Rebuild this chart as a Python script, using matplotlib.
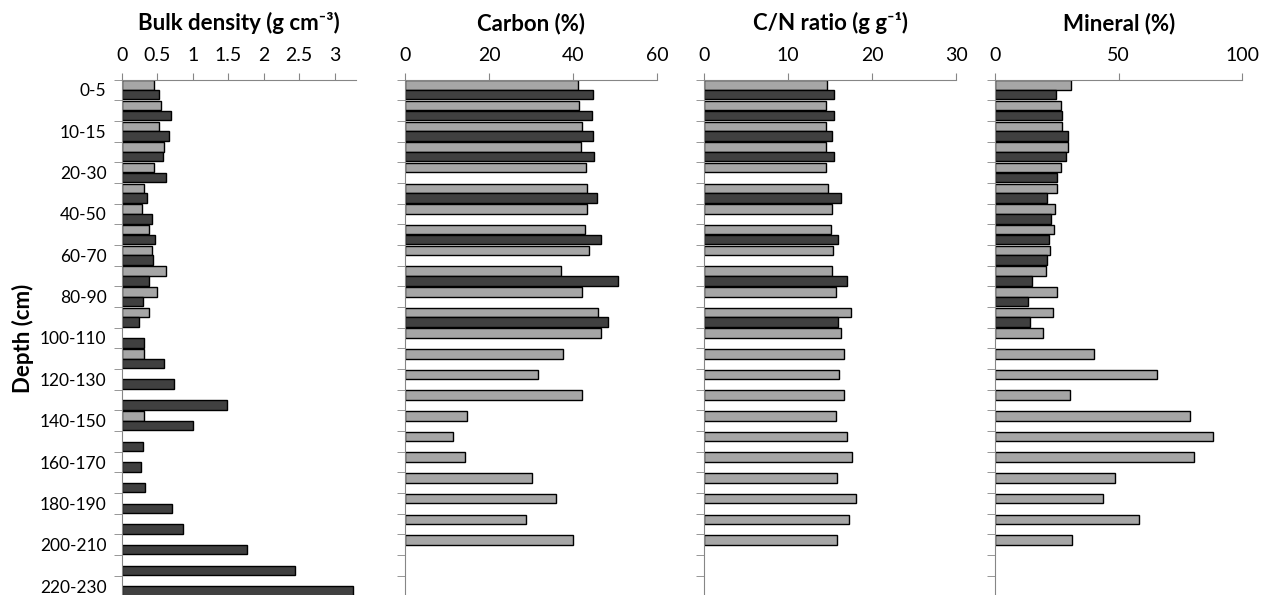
import numpy as np
import matplotlib
matplotlib.use('Agg')
import matplotlib.pyplot as plt
from matplotlib.ticker import FixedLocator, FuncFormatter

plt.rcParams['font.family'] = ['Lato', 'DejaVu Sans']

# depth classes (cm)
depths = ['0-5', '5-10', '10-15', '15-20', '20-30', '30-40', '40-50', '50-60',
          '60-70', '70-80', '80-90', '90-100', '100-110', '110-120', '120-130',
          '130-140', '140-150', '150-160', '160-170', '170-180', '180-190',
          '190-200', '200-210', '210-220', '220-230']

nan = np.nan
# light grey series / dark grey series
bd_light = [0.45, 0.55, 0.52, 0.59, 0.46, 0.31, 0.29, 0.38, 0.43, 0.63, 0.50, 0.38,
            nan, 0.31, nan, nan, 0.32, nan, nan, nan, nan, nan, nan, nan, nan]
bd_dark = [0.52, 0.69, 0.66, 0.58, 0.63, 0.35, 0.43, 0.47, 0.44, 0.38, 0.30, 0.25,
           0.32, 0.60, 0.73, 1.48, 1.00, 0.30, 0.27, 0.33, 0.71, 0.87, 1.77, 2.44, 3.26]

c_light = [41.2, 41.3, 42.2, 41.9, 43.1, 43.3, 43.4, 42.9, 43.8, 37.1, 42.2, 45.8,
           46.6, 37.5, 31.7, 42.2, 14.7, 11.3, 14.3, 30.2, 35.8, 28.8, 40.0, nan, nan]
c_dark = [44.6, 44.5, 44.8, 44.9, nan, 45.7, nan, 46.5, nan, 50.7, nan, 48.3,
          nan, nan, nan, nan, nan, nan, nan, nan, nan, nan, nan, nan, nan]

cn_light = [14.6, 14.5, 14.5, 14.5, 14.5, 14.7, 15.2, 15.1, 15.3, 15.2, 15.7, 17.5,
            16.3, 16.7, 16.1, 16.7, 15.7, 17.0, 17.6, 15.8, 18.1, 17.2, 15.8, nan, nan]
cn_dark = [15.5, 15.5, 15.2, 15.5, nan, 16.3, nan, 15.9, nan, 17.0, nan, 15.9,
           nan, nan, nan, nan, nan, nan, nan, nan, nan, nan, nan, nan, nan]

min_light = [30.7, 26.8, 27.1, 29.5, 26.5, 25.1, 24.4, 23.7, 22.4, 20.5, 24.9, 23.5,
             19.3, 40.2, 65.5, 30.2, 78.8, 88.1, 80.6, 48.4, 43.7, 58.2, 31.0, nan, nan]
min_dark = [24.5, 27.0, 29.4, 28.8, 25.1, 20.9, 22.8, 22.0, 20.9, 15.1, 13.2, 14.2,
            nan, nan, nan, nan, nan, nan, nan, nan, nan, nan, nan, nan, nan]

panels = [
    ('Bulk density (g cm⁻³)', bd_light, bd_dark, 3.3, [0, 0.5, 1, 1.5, 2, 2.5, 3]),
    ('Carbon (%)', c_light, c_dark, 60, [0, 20, 40, 60]),
    ('C/N ratio (g g⁻¹)', cn_light, cn_dark, 30, [0, 10, 20, 30]),
    ('Mineral (%)', min_light, min_dark, 100, [0, 50, 100]),
]

W, H = 1268, 595
lefts = [121.7, 405, 704, 995]
widths = [234.3, 252.3, 252.3, 247.3]
top, bottom = 79.5, 596.5

fig = plt.figure(figsize=(W / 100, H / 100), dpi=100)
grey = '#868686'
idx = np.arange(len(depths))

for k, (title, light, dark, xmax, xt) in enumerate(panels):
    ax = fig.add_axes([lefts[k] / W, 1 - bottom / H, widths[k] / W, (bottom - top) / H])
    ax.barh(idx - 0.235, light, height=0.46, color='#a6a6a6', edgecolor='black', lw=1)
    ax.barh(idx + 0.235, dark, height=0.46, color='#404040', edgecolor='black', lw=1)
    ax.set_ylim(len(depths) - 0.5, -0.5)
    ax.set_xlim(0, xmax)
    ax.xaxis.tick_top()
    ax.set_xticks(xt)
    ax.xaxis.set_major_formatter(FuncFormatter(lambda v, p: '%g' % v))
    ax.tick_params(axis='x', direction='out', length=5, color=grey, labelsize=14, pad=6.5)
    ax.yaxis.set_minor_locator(FixedLocator(np.arange(-0.5, len(depths), 1.0)))
    ax.set_yticks(idx[::2])
    ax.tick_params(axis='y', which='major', length=0, labelsize=12.5, pad=11)
    ax.tick_params(axis='y', which='minor', direction='out', length=6, color=grey)
    if k == 0:
        ax.set_yticklabels(depths[::2])
        ax.set_ylabel('Depth (cm)', fontsize=16, fontweight='bold', labelpad=4)
    else:
        ax.set_yticklabels([])
    for s in ['right', 'bottom']:
        ax.spines[s].set_visible(False)
    for s in ['left', 'top']:
        ax.spines[s].set_color(grey)
    ax.set_title(title, fontsize=16, fontweight='bold', pad=35.5)

fig.savefig('out.png', dpi=100)
